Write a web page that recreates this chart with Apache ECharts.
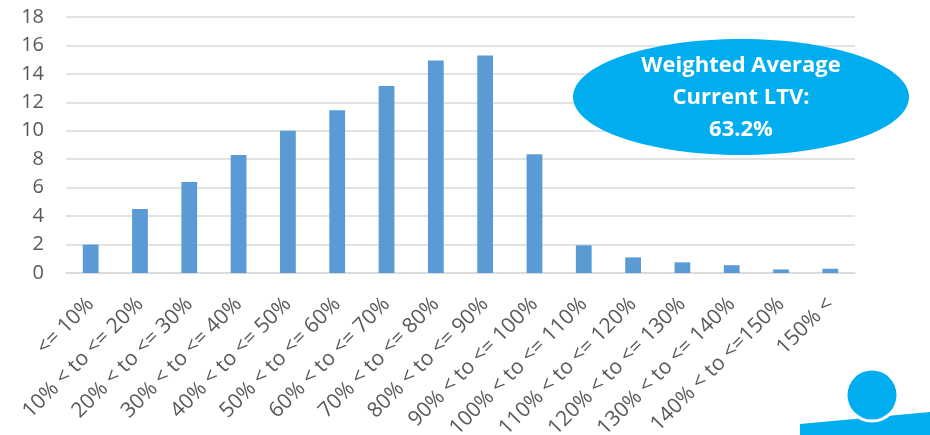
<!DOCTYPE html>
<html>
<head>
<meta charset="utf-8">
<script src="https://cdn.jsdelivr.net/npm/echarts@6/dist/echarts.min.js"></script>
<style>html,body{margin:0;padding:0;background:#fff;}#c{width:930px;height:435px;}</style>
</head>
<body>
<div id="c"></div>
<script>
var categories = ['<= 10%', '10% < to <= 20%', '20% < to <= 30%', '30% < to <= 40%', '40% < to <= 50%', '50% < to <= 60%', '60% < to <= 70%', '70% < to <= 80%', '80% < to <= 90%', '90% < to <= 100%', '100% < to <= 110%', '110% < to <= 120%', '120% < to <= 130%', '130% < to <= 140%', '140% < to <=150%', '150% <'];
var values = [2.0, 4.5, 6.4, 8.3, 10.0, 11.45, 13.15, 14.95, 15.3, 8.35, 1.95, 1.1, 0.75, 0.55, 0.25, 0.3];
var yTicks = [0, 2, 4, 6, 8, 10, 12, 14, 16, 18];
var calloutLines = ['Weighted Average', 'Current LTV:', '63.2%'];

var chart = echarts.init(document.getElementById('c'), null, {renderer: 'canvas'});
var font = '"Open Sans", "Liberation Sans", sans-serif';
chart.setOption({
  animation: false,
  backgroundColor: '#ffffff',
  grid: {left: 66, right: 75, top: 17, bottom: 162, containLabel: false, outerBoundsMode: 'none'},
  xAxis: {
    type: 'category',
    data: categories,
    axisTick: {show: false},
    axisLine: {lineStyle: {color: '#d9d9d9', width: 1.5}},
    axisLabel: {interval: 0, rotate: 45, color: '#595959', fontSize: 21, fontFamily: font, margin: 28}
  },
  yAxis: {
    type: 'value',
    min: yTicks[0],
    max: yTicks[yTicks.length - 1],
    interval: 2,
    axisLine: {show: false},
    axisTick: {show: false},
    splitLine: {lineStyle: {color: '#d9d9d9', width: 1.5}},
    axisLabel: {color: '#595959', fontSize: 20, fontFamily: font, margin: 22}
  },
  series: [{
    type: 'bar',
    data: values,
    barWidth: '32%',
    itemStyle: {color: '#5B9BD5'}
  }],
  graphic: [
    {type: 'ellipse', shape: {cx: 741, cy: 97, rx: 168, ry: 58}, style: {fill: '#00AEEF'}, z: 10},
    {type: 'text', x: 741, y: 50, z: 11, style: {
      text: calloutLines.join('\n'), fill: '#ffffff', font: 'bold 22px ' + font,
      textAlign: 'center', align: 'center', lineHeight: 32
    }},
    {type: 'polygon', shape: {points: [[800, 424], [930, 412], [930, 435], [800, 435]]}, style: {fill: '#00AEEF'}, z: 10},
    {type: 'circle', shape: {cx: 872, cy: 395, r: 27.5}, style: {fill: '#ffffff'}, z: 11},
    {type: 'circle', shape: {cx: 872, cy: 395, r: 24.5}, style: {fill: '#00AEEF'}, z: 12}
  ]
});
</script>
</body>
</html>
